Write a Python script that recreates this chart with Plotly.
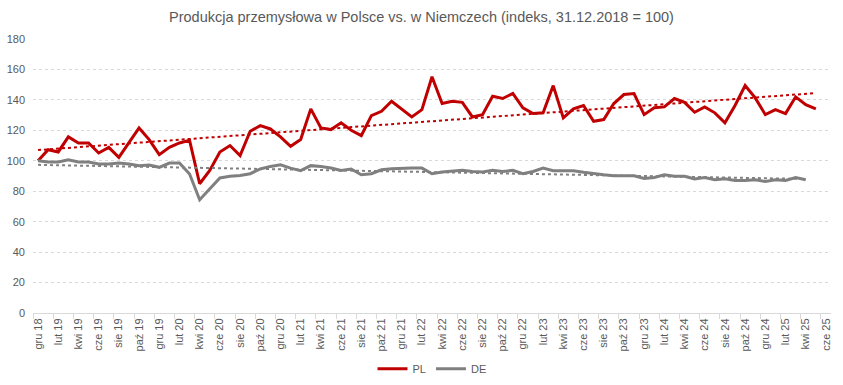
import numpy as np
import plotly.graph_objects as go

# Monthly index values, starting Dec 2018 (index 0)
pl_values = [100.0, 107.3, 105.8, 115.7, 111.7, 111.7, 105.1, 108.8, 102.2, 112.0,
             121.6, 113.9, 104.0, 108.8, 111.7, 113.4, 84.9, 93.7, 105.8, 110.0,
             103.4, 119.4, 123.1, 120.9, 115.7, 109.5, 114.0, 134.1, 121.6, 120.5,
             124.9, 120.0, 116.5, 129.7, 132.5, 139.1, 134.1, 128.8, 133.6, 155.2,
             137.6, 139.1, 138.4, 128.8, 130.3, 142.4, 140.9, 144.2, 134.8, 131.0,
             131.5, 149.4, 128.2, 134.1, 136.3, 125.9, 127.1, 137.6, 143.5, 144.2,
             130.3, 134.8, 135.4, 140.9, 138.4, 131.9, 135.4, 131.5, 124.9, 136.3,
             149.4, 141.3, 130.3, 133.6, 131.0, 142.0, 136.9, 134.1]

de_values = [100.0, 99.2, 99.2, 100.7, 99.2, 99.2, 97.9, 97.9, 98.5, 97.9,
             96.8, 97.2, 95.7, 98.5, 98.5, 91.3, 74.4, 81.4, 88.7, 89.8,
             90.4, 91.5, 94.6, 96.3, 97.4, 95.2, 93.5, 96.8, 96.3, 95.2,
             93.7, 94.6, 90.8, 91.5, 94.1, 94.8, 95.2, 95.2, 95.2, 91.5,
             92.6, 93.0, 93.7, 93.0, 92.6, 93.7, 93.0, 93.7, 91.5, 93.0,
             95.2, 93.5, 93.5, 93.5, 92.4, 91.5, 90.8, 90.2, 90.2, 90.2,
             88.4, 89.0, 90.8, 89.8, 89.8, 88.0, 89.0, 87.5, 88.2, 87.1,
             87.1, 87.5, 86.4, 87.5, 87.1, 89.0, 87.5]

tick_labels = ["gru 18", "lut 19", "kwi 19", "cze 19", "sie 19", "paź 19", "gru 19",
               "lut 20", "kwi 20", "cze 20", "sie 20", "paź 20", "gru 20",
               "lut 21", "kwi 21", "cze 21", "sie 21", "paź 21", "gru 21",
               "lut 22", "kwi 22", "cze 22", "sie 22", "paź 22", "gru 22",
               "lut 23", "kwi 23", "cze 23", "sie 23", "paź 23", "gru 23",
               "lut 24", "kwi 24", "cze 24", "sie 24", "paź 24", "gru 24",
               "lut 25", "kwi 25", "cze 25"]

n_months = 2 * len(tick_labels) - 1  # Dec 2018 .. Jun 2025
RED = "#C00000"
GRAY = "#808080"
TXT = "#595959"

x_pl = np.arange(len(pl_values))
x_de = np.arange(len(de_values))
pl_fit = np.polyfit(x_pl, pl_values, 1)
de_fit = np.polyfit(x_de, de_values, 1)

fig = go.Figure()
fig.add_trace(go.Scatter(x=x_pl, y=pl_values, mode="lines", name="PL",
                         line=dict(color=RED, width=3)))
fig.add_trace(go.Scatter(x=x_de, y=de_values, mode="lines", name="DE",
                         line=dict(color=GRAY, width=3)))
fig.add_trace(go.Scatter(x=x_pl, y=np.polyval(pl_fit, x_pl), mode="lines",
                         showlegend=False, hoverinfo="skip",
                         line=dict(color=RED, width=2, dash="dot")))
fig.add_trace(go.Scatter(x=x_de, y=np.polyval(de_fit, x_de), mode="lines",
                         showlegend=False, hoverinfo="skip",
                         line=dict(color=GRAY, width=2, dash="dot")))
# invisible trace to carry the tick-mark axis at category boundaries
fig.add_trace(go.Scatter(x=[-0.5, n_months - 0.5], y=[None, None], xaxis="x2",
                         showlegend=False, hoverinfo="skip", mode="lines"))

fig.update_layout(
    width=843, height=385,
    margin=dict(l=33, r=12, t=39, b=72, autoexpand=False),
    paper_bgcolor="white", plot_bgcolor="white",
    font=dict(family="Liberation Sans, Arial, sans-serif", color=TXT, size=11),
    title=dict(text="Produkcja przemysłowa w Polsce vs. w Niemczech (indeks, 31.12.2018 = 100)",
               x=0.5, xanchor="center", y=0.956, yanchor="middle",
               font=dict(size=14.5, color=TXT)),
    xaxis=dict(range=[-0.5, n_months - 0.5], tickmode="array",
               tickvals=list(range(0, n_months, 2)), ticktext=tick_labels,
               tickangle=-90, showgrid=False, zeroline=False, automargin=False,
               showline=True, linecolor="#D9D9D9", linewidth=1,
               ticks="", tickfont=dict(size=11, color=TXT)),
    xaxis2=dict(range=[-0.5, n_months - 0.5], overlaying="x", side="bottom",
                anchor="y", tickmode="array", automargin=False,
                tickvals=[v - 0.5 for v in range(0, n_months + 1, 2)],
                showticklabels=False, ticks="outside", ticklen=5,
                tickcolor="#D9D9D9", showgrid=False, zeroline=False,
                showline=False),
    yaxis=dict(range=[0, 180], tickmode="linear", tick0=0, dtick=20,
               showgrid=True, gridcolor="#D9D9D9", griddash="dot", gridwidth=1,
               zeroline=False, showline=False, ticks="", automargin=False,
               ticklabelstandoff=7,
               tickfont=dict(size=11, color=TXT)),
    legend=dict(orientation="h", x=0.5, xanchor="center", yref="container",
                y=0.042, yanchor="middle", font=dict(size=11, color=TXT)),
    showlegend=True,
)

fig.write_html("out.html", config={"displayModeBar": False},
               post_script="document.body.style.margin='0';")
